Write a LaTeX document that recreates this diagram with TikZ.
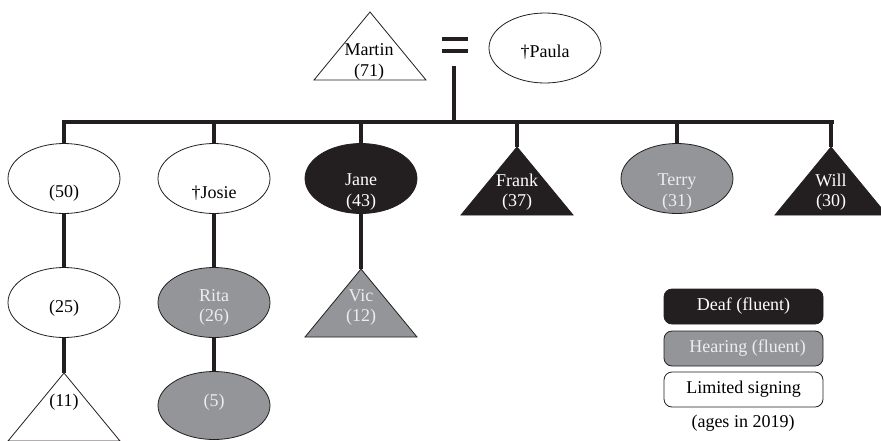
\documentclass[tikz,border=0pt]{standalone}
\usepackage{fontspec}
\setmainfont{Liberation Serif}
\usetikzlibrary{shapes.geometric}
\definecolor{deaf}{HTML}{231F20}
\definecolor{hear}{HTML}{939598}
\definecolor{htxt}{HTML}{EDEDED}
\newcommand\persontri[4]{%
  \coordinate (#1) at (#2,#3);
  \draw[tri,#4] (#1) -- ++(-56,68) -- ++(112,0) -- cycle;}
\begin{document}
\begin{tikzpicture}[x=1pt,y=-1pt,
  ell/.style={ellipse, draw=deaf, line width=0.8pt, minimum width=112pt, minimum height=70pt, inner sep=0pt},
  txt/.style={font=\fontsize{18}{20.5}\selectfont, align=center, inner sep=0pt},
  link/.style={line width=4pt, draw=deaf},
  tri/.style={draw=deaf, line width=0.8pt, line join=miter},
  deafc/.style={fill=deaf},
  hearc/.style={fill=hear},
  limc/.style={fill=white},
  legbox/.style={draw=deaf, line width=0.8pt, rounded corners=8pt, minimum width=159pt, minimum height=35pt, inner sep=0pt, font=\fontsize{18}{20.5}\selectfont}
]
\useasboundingbox (0,0) rectangle (881,440);

% parents
\persontri{martin}{370}{12}{limc}
\node[txt] (martint) at (369,62) {Martin\\(71)};
\node[ell, limc, label={[txt,yshift=-4pt]center:{†Paula}}] (paula) at (545,48) {};
\coordinate (eqA1) at (442,39); \coordinate (eqA2) at (468,39);
\coordinate (eqB1) at (442,51); \coordinate (eqB2) at (468,51);
\draw[link, line width=3.5pt] (eqA1) -- (eqA2);
\draw[link, line width=3.5pt] (eqB1) -- (eqB2);
\coordinate (eqbot) at (454,66);
\coordinate (barL) at (62,122);
\coordinate (barR) at (834,122);
\draw[link, line width=4.5pt] (barL) -- (barR);
\draw[link] (eqbot) -- (eqbot |- barL);

% children
\node[ell, limc, label={[txt,yshift=-14.5pt]center:{(50)}}] (e50) at (64,178.5) {};
\node[ell, limc, label={[txt,yshift=-14.5pt]center:{†Josie}}] (josie) at (214,178.5) {};
\node[ell, deafc, label={[txt,text=white,yshift=-13.5pt]center:{Jane\\(43)}}] (jane) at (361,178.5) {};
\persontri{frank}{517}{147}{deafc}
\node[txt, text=white] (frankt) at (517,192) {Frank\\(37)};
\node[ell, hearc, label={[txt,text=htxt,yshift=-13.5pt]center:{Terry\\(31)}}] (terry) at (677,178.5) {};
\persontri{will}{831}{147}{deafc}
\node[txt, text=white] (willt) at (831,192) {Will\\(30)};

\foreach \n in {e50,josie,jane,terry}{\draw[link] (\n.north |- barL) -- (\n.north);}
\foreach \n in {frank,will}{\draw[link] (\n |- barL) -- (\n);}

% grandchildren
\node[ell, limc, label={[txt,yshift=-6pt]center:{(25)}}] (e25) at (64,302.5) {};
\node[ell, hearc, label={[txt,text=htxt,yshift=-5pt]center:{Rita\\(26)}}] (rita) at (214,302.5) {};
\persontri{vic}{361}{269}{hearc}
\node[txt, text=htxt] (vict) at (361,307.5) {Vic\\(12)};
\persontri{t11}{64}{373}{limc}
\node[txt] (t11t) at (64,402) {(11)};
\node[ell, hearc, minimum height=68pt, label={[txt,text=htxt,yshift=3pt]center:{(5)}}] (e5) at (214,405.5) {};

\draw[link] (e50.south) -- (e25.north);
\draw[link] (e25.south) -- (t11);
\draw[link] (josie.south) -- (rita.north);
\draw[link] (rita.south) -- (e5.north);
\draw[link] (jane.south) -- (vic);

% legend
\node[legbox, fill=deaf, text=white] (lgdeaf) at (743.5,306.5) {Deaf (fluent)};
\node[legbox, fill=hear, text=htxt] (lghear) at (743.5,348.5) {\hspace{8pt}Hearing (fluent)};
\node[legbox, fill=white] (lglim) at (743.5,389.5) {Limited signing};
\node[txt] (lgages) at (743,423) {(ages in 2019)};
\end{tikzpicture}
\end{document}
